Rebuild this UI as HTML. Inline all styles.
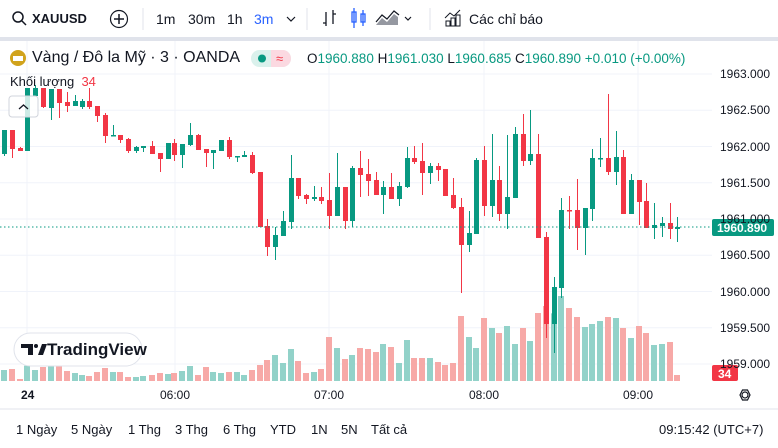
<!DOCTYPE html>
<html><head><meta charset="utf-8"><style>
body{margin:0;width:778px;height:448px;overflow:hidden;background:#fff;font-family:"Liberation Sans",sans-serif;color:#131722;position:relative}
.a{position:absolute;white-space:nowrap}
.r{position:absolute;top:422px;font-size:13px;white-space:nowrap}
</style></head><body>
<div class="a" style="left:0;top:0;width:778px;height:37px;background:#fff"></div>
<div class="a" style="left:0;top:37px;width:778px;height:4px;background:#e0e3eb"></div>
<svg class="a" style="left:0;top:0" width="778" height="448" xmlns="http://www.w3.org/2000/svg" id="s">
<g stroke="#131722" fill="none" stroke-width="1.5">
<circle cx="18" cy="17" r="5"/><line x1="22" y1="21" x2="26" y2="25"/>
<circle cx="119" cy="19" r="8.5" stroke-width="1.2"/><line x1="119" y1="14" x2="119" y2="24"/><line x1="114" y1="19" x2="124" y2="19"/>
<path d="M287 17 l4 4 l4 -4" stroke-width="1.2"/>
<path d="M326 12v14M323 23h3M333 10v14M333 14h3" stroke-width="1.3"/>
<path d="M405 17 l3 3 l3 -3" stroke-width="1.2"/>
<path d="M446 26h4v-5h-4zM451 26h4v-8h-4zM456 26h4v-11h-4z" stroke-width="1"/>
<path d="M445 18l5 -5l4 3l6 -6" stroke-width="1"/>
</g>
<g stroke="#2962ff" fill="none" stroke-width="1.3"><rect x="352" y="12" width="4" height="10"/><line x1="354" y1="8" x2="354" y2="28"/><rect x="361" y="14" width="4" height="8"/><line x1="363" y1="10" x2="363" y2="26"/></g>
<path d="M376 25l6-7l5 4l7-8l4 3v8z" fill="#9598a1"/><path d="M376 22l6-7l5 4l7-8l5 4" stroke="#131722" fill="none" stroke-width="1.2"/>
<line x1="143" y1="8" x2="143" y2="30" stroke="#e0e3eb"/><line x1="307" y1="8" x2="307" y2="30" stroke="#e0e3eb"/><line x1="430" y1="8" x2="430" y2="30" stroke="#e0e3eb"/>
<g id="grid" stroke="#f0f3fa" stroke-width="1"></g>
<g id="vol"></g>
<g id="cdl"></g>
<line x1="0" y1="227" x2="712" y2="227" stroke="#089981" stroke-dasharray="1.5,2.5" stroke-width="1"/>
<line x1="0" y1="409" x2="778" y2="409" stroke="#e0e3eb"/>
<circle cx="18" cy="58" r="8" fill="#d1a31c"/><rect x="13" y="56" width="10" height="5" fill="#fff"/>
<rect x="251" y="50" width="40" height="17" rx="8.5" fill="#daf1ec"/><path d="M271 50h11.5a8.5 8.5 0 0 1 0 17h-11.5z" fill="#fbd9e1"/>
<circle cx="262" cy="58.5" r="4" fill="#089981"/>
<text x="276" y="63" font-size="13" fill="#f23645" font-family="Liberation Sans">≈</text>
<rect x="9" y="96" width="29" height="21" rx="3" fill="#fff" fill-opacity="0.8" stroke="#d1d4dc"/>
<path d="M19 109l4.5-4l4.5 4" stroke="#131722" fill="none" stroke-width="1.3"/>
<rect x="14" y="333" width="128" height="33" rx="16.5" fill="#fff" stroke="#e0e3eb"/>
<path d="M21 344h12v11h-5v-7h-7z" fill="#131722"/><circle cx="36" cy="346" r="2" fill="#131722"/><path d="M38 355l4-11h5l-4 11z" fill="#131722"/>
<rect x="712" y="219" width="62" height="17" rx="2" fill="#089981"/>
<rect x="712" y="365" width="26" height="16" rx="2" fill="#f23645"/>
<circle cx="745" cy="395" r="3" fill="none" stroke="#131722" stroke-width="1.2"/><path d="M740 395l2.5-5h5l2.5 5l-2.5 5h-5z" fill="none" stroke="#131722" stroke-width="1.2"/>
</svg>
<div class="a" style="left:32px;top:11px;font-size:13px;font-weight:bold">XAUUSD</div>
<div class="a" style="left:156px;top:11px;font-size:14px">1m</div>
<div class="a" style="left:188px;top:11px;font-size:14px">30m</div>
<div class="a" style="left:227px;top:11px;font-size:14px">1h</div>
<div class="a" style="left:254px;top:11px;font-size:14px;color:#2962ff">3m</div>
<div class="a" style="left:469px;top:11px;font-size:14px">Các chỉ báo</div>
<div class="a" style="left:32px;top:49px;font-size:16px">Vàng / Đô la Mỹ · 3 · OANDA</div>
<div class="a" style="left:307px;top:51px;font-size:13.5px">O<span style="color:#089981">1960.880</span> H<span style="color:#089981">1961.030</span> L<span style="color:#089981">1960.685</span> C<span style="color:#089981">1960.890</span> <span style="color:#089981">+0.010 (+0.00%)</span></div>
<div class="a" style="left:10px;top:74px;font-size:13px">Khối lượng <span style="color:#f23645">&nbsp;34</span></div>
<div class="a" style="left:47px;top:340px;font-size:17px;font-weight:bold">TradingView</div>
<div id="pl"></div>
<div class="a" style="left:717px;top:221px;font-size:12px;color:#fff;font-weight:bold">1960.890</div>
<div class="a" style="left:718px;top:367px;font-size:12px;color:#fff;font-weight:bold">34</div>
<div class="a" style="left:21px;top:388px;font-size:12px;font-weight:bold">24</div>
<div class="a" style="left:160px;top:388px;font-size:12px">06:00</div>
<div class="a" style="left:314px;top:388px;font-size:12px">07:00</div>
<div class="a" style="left:469px;top:388px;font-size:12px">08:00</div>
<div class="a" style="left:623px;top:388px;font-size:12px">09:00</div>
<div class="r" style="left:16px">1 Ngày</div>
<div class="r" style="left:71px">5 Ngày</div>
<div class="r" style="left:128px">1 Thg</div>
<div class="r" style="left:175px">3 Thg</div>
<div class="r" style="left:223px">6 Thg</div>
<div class="r" style="left:270px">YTD</div>
<div class="r" style="left:311px">1N</div>
<div class="r" style="left:341px">5N</div>
<div class="r" style="left:371px">Tất cả</div>
<div class="a" style="left:659px;top:422px;font-size:13px">09:15:42 (UTC+7)</div>
<script>
var NS="http://www.w3.org/2000/svg";
function el(p,t,a){var e=document.createElementNS(NS,t);for(var k in a)e.setAttribute(k,a[k]);document.getElementById(p).appendChild(e);}
[27,175,329,484,638].forEach(function(x){el("grid","line",{x1:x,y1:41,x2:x,y2:381});});
var prices=["1963.000","1962.500","1962.000","1961.500","1961.000","1960.500","1960.000","1959.500","1959.000"];
var pl="";
prices.forEach(function(p,i){var y=74+i*36.25;el("grid","line",{x1:0,y1:y,x2:712,y2:y});pl+='<div class="a" style="left:720px;top:'+(y-7)+'px;font-size:12px">'+p+'</div>';});
document.getElementById("pl").innerHTML=pl;
var C=[[4,154,130,130,156,1],[12,130,149,130,158,0],[20,148,151,147,151,0],[27,151,88,88,151,1],[35,96,88,85,96,1],[43,88,107,88,108,0],[51,108,89,89,120,1],[59,89,103,89,118,0],[67,102,106,92,112,0],[75,106,101,95,106,1],[82,107,101,99,109,1],[89,101,107,88,109,0],[97,106,116,106,122,0],[105,115,136,113,143,0],[113,136,135,125,136,1],[120,135,140,135,143,0],[128,139,151,138,153,0],[136,151,147,146,153,1],[143,148,146,146,152,1],[152,146,154,141,154,0],[160,153,159,153,172,0],[168,159,143,143,159,1],[174,143,155,139,161,0],[182,155,144,144,168,1],[190,145,135,123,146,1],[198,135,150,134,150,0],[206,149,153,149,167,0],[213,153,150,150,169,1],[221,151,140,140,151,1],[229,140,157,137,159,0],[237,157,156,156,162,1],[244,157,155,151,157,1],[252,155,173,152,174,0],[260,172,227,172,227,0],[267,226,247,219,256,0],[275,247,235,227,260,1],[283,236,221,211,236,1],[291,222,178,155,229,1],[298,178,196,178,199,0],[306,195,199,194,204,0],[314,199,197,186,201,1],[321,197,201,187,204,0],[329,200,216,173,229,0],[337,216,187,153,216,1],[345,187,221,187,229,0],[352,221,168,166,227,1],[360,168,175,151,197,0],[368,174,181,159,196,0],[376,180,195,172,195,0],[383,195,187,181,214,1],[391,187,199,173,199,0],[399,199,186,182,206,1],[407,187,158,147,188,1],[414,158,162,146,164,0],[422,161,173,143,195,0],[430,173,166,163,184,1],[438,166,170,163,181,0],[445,169,196,169,196,0],[453,195,208,178,209,0],[461,207,245,198,293,0],[469,245,233,211,252,1],[476,234,160,158,234,1],[484,160,206,146,216,0],[492,206,180,134,217,1],[499,180,214,166,221,0],[507,214,197,135,229,1],[515,198,134,127,198,1],[523,134,161,114,166,0],[530,161,154,110,165,1],[538,154,238,134,238,0],[546,237,324,232,338,0],[554,324,287,277,353,1],[561,288,210,198,298,1],[569,210,211,196,229,0],[577,210,228,179,250,0],[585,228,208,208,255,1],[592,209,158,149,221,1],[600,159,158,138,167,1],[608,158,172,94,175,0],[616,172,157,131,185,1],[623,157,214,150,214,0],[631,214,180,174,214,1],[639,180,202,180,225,0],[646,201,228,183,228,0],[654,228,225,203,239,1],[662,226,223,217,237,1],[670,223,229,203,239,0],[677,229,227,217,242,1]];
var V=[870,867,897,857,870,861,857,857,873,879,885,888,876,864,876,876,891,891,888,885,879,882,879,873,858,885,861,876,879,876,876,885,870,855,840,825,849,807,843,879,876,867,771,804,837,825,804,807,816,792,801,849,780,834,834,834,846,855,849,708,771,804,714,744,759,738,792,744,783,699,678,700,648,684,711,741,732,723,711,714,744,774,738,759,795,792,786,885];
C.forEach(function(c,i){
 var g=c[5],col=g?"#089981":"#f23645",vc=g?"#92d2c9":"#f7a9a7";
 var vt=80+V[i]/3; if(i==C.length-1)vc="#f7a9a7";
 el("vol","rect",{x:c[0]-3,y:vt,width:6,height:381-vt,fill:vc});
 el("cdl","line",{x1:c[0]+0.5,y1:c[3],x2:c[0]+0.5,y2:c[4],stroke:col,"stroke-width":1});
 var t=Math.min(c[1],c[2]),b=Math.max(c[1],c[2]);if(b-t<1.5)b=t+1.5;
 el("cdl","rect",{x:c[0]-2,y:t,width:5,height:b-t,fill:col});
});
</script>
</body></html>
